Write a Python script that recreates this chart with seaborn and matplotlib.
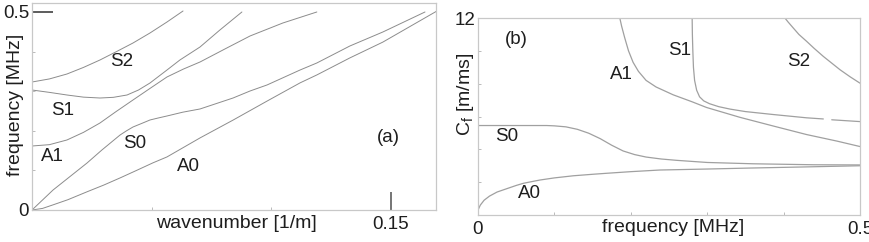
import numpy as np
import pandas as pd
import matplotlib
matplotlib.use("Agg")
import matplotlib.pyplot as plt
import seaborn as sns

# ---------------- data: panel (a) dispersion curves (wavenumber vs frequency) ----
a_A0_k = [0, 0.0044, 0.0088, 0.015, 0.0230, 0.030, 0.0368, 0.0437, 0.0505, 0.0564, 0.0702, 0.0840,
          0.0982, 0.1120, 0.1190, 0.1328, 0.1466, 0.1692]
a_A0_f = [0, 0.004, 0.013, 0.026, 0.046, 0.063, 0.081, 0.100, 0.119, 0.134, 0.182, 0.227,
          0.275, 0.321, 0.341, 0.384, 0.424, 0.5025]
a_S0_k = [0, 0.0088, 0.0230, 0.0292, 0.0368, 0.0395, 0.0422, 0.046, 0.0493, 0.0525, 0.0564, 0.063,
          0.0702, 0.0840, 0.0911, 0.0982, 0.1120, 0.1190, 0.1328, 0.1466, 0.1642]
a_S0_f = [0, 0.0505, 0.1187, 0.1515, 0.1894, 0.200, 0.2096, 0.219, 0.2273, 0.232, 0.2374, 0.247,
          0.2551, 0.2828, 0.3005, 0.3157, 0.3535, 0.3712, 0.4141, 0.4495, 0.5]
a_A1_k = [0, 0.0073, 0.0146, 0.0215, 0.0284, 0.035, 0.0422, 0.0493, 0.0564, 0.0633, 0.0702,
          0.0806, 0.0911, 0.1048, 0.1190]
a_A1_f = [0.1616, 0.165, 0.1768, 0.196, 0.2197, 0.248, 0.2778, 0.307, 0.3359, 0.356, 0.3737,
          0.4066, 0.4394, 0.4722, 0.5]
a_S1_k = [0, 0.0073, 0.0146, 0.0215, 0.0284, 0.034, 0.0397, 0.0445, 0.0493, 0.0564, 0.0618,
          0.0702, 0.0785, 0.0877]
a_S1_f = [0.303, 0.297, 0.2904, 0.285, 0.2828, 0.2845, 0.2904, 0.303, 0.3207, 0.3535, 0.3788,
          0.4116, 0.4545, 0.5]
a_S2_k = [0, 0.0073, 0.0146, 0.0215, 0.0284, 0.0353, 0.0422, 0.0493, 0.0564, 0.0631]
a_S2_f = [0.3232, 0.331, 0.3434, 0.36, 0.3788, 0.400, 0.4217, 0.447, 0.4747, 0.5025]

# ---------------- data: panel (b) phase velocity vs frequency -------------------
b_A0_f = [0, 0.003, 0.008, 0.015, 0.025, 0.0375, 0.05, 0.0593, 0.07, 0.081, 0.10, 0.125, 0.15,
          0.168, 0.20, 0.238, 0.30, 0.356, 0.43, 0.5]
b_A0_c = [0.3, 0.6, 0.9, 1.15, 1.4, 1.6, 1.8, 1.93, 2.03, 2.13, 2.26, 2.39, 2.48,
          2.54, 2.64, 2.74, 2.80, 2.86, 2.93, 3.0]
b_S0_f = [0, 0.09, 0.10, 0.115, 0.13, 0.145, 0.16, 0.175, 0.19, 0.205, 0.22, 0.24, 0.26, 0.30,
          0.36, 0.44, 0.5]
b_S0_c = [5.45, 5.45, 5.43, 5.37, 5.22, 4.98, 4.65, 4.25, 3.9, 3.68, 3.53, 3.41, 3.33, 3.2,
          3.12, 3.06, 3.05]
b_A1_f = [0.1856, 0.188, 0.192, 0.197, 0.203, 0.21, 0.22, 0.233, 0.2555, 0.28, 0.2991, 0.3428,
          0.3865, 0.4301, 0.47, 0.5]
b_A1_c = [12, 11.5, 10.8, 10.0, 9.3, 8.75, 8.2, 7.8, 7.32, 6.9, 6.55, 5.95,
          5.42, 4.9, 4.5, 4.17]
b_S1_f = [0.2803, 0.2806, 0.2812, 0.282, 0.2835, 0.2862, 0.29, 0.2955, 0.303, 0.315, 0.33, 0.35,
          0.3865, 0.4301, 0.452, 0.457, 0.463, 0.5]
b_S1_c = [12, 11, 10, 9, 8.2, 7.6, 7.2, 6.95, 6.78, 6.6, 6.45, 6.3,
          6.12, 5.92, 5.85, np.nan, 5.80, 5.69]
b_S2_f = [0.4017, 0.406, 0.4127, 0.42, 0.4301, 0.44, 0.452, 0.4738, 0.487, 0.5]
b_S2_c = [12, 11.75, 11.39, 11.0, 10.58, 10.15, 9.66, 8.85, 8.42, 8.03]

labels_a = {"S2": (0.0376, 0.374), "S1": (0.0129, 0.2525), "A1": (0.0084, 0.134),
            "S0": (0.043, 0.169), "A0": (0.0652, 0.1086), "(a)": (0.1487, 0.184)}
labels_b = {"(b)": (0.0506, 10.66), "S1": (0.2635, 10.05), "A1": (0.188, 8.53),
            "S2": (0.4193, 9.34), "S0": (0.0375, 4.77), "A0": (0.068, 1.32)}

sns.set_style("white")
plt.rcParams['font.family'] = ['Liberation Sans', 'DejaVu Sans']
plt.rcParams['mathtext.fontset'] = 'custom'
plt.rcParams['mathtext.rm'] = 'Liberation Sans'

W, H = 869, 242
fig = plt.figure(figsize=(W / 100, H / 100), dpi=100)

def rect(l, r, t, b):
    return [l / W, (H - b) / H, (r - l) / W, (b - t) / H]

axA = fig.add_axes(rect(32, 436, 3, 210))
axB = fig.add_axes(rect(478, 860, 18, 215))

line_col = "#8c8c8c"
spine_col = "#c8c8c8"
txt_col = "#1e1e1e"
fs = 13.5

def draw(ax, x, y, color, lw):
    x = np.asarray(x, float)
    y = np.asarray(y, float)
    seg = np.cumsum(np.isnan(y))
    df = pd.DataFrame({"x": x, "y": y, "seg": seg}).dropna()
    for _, g in df.groupby("seg"):
        sns.lineplot(data=g, x="x", y="y", ax=ax, color=color, lw=lw, sort=False,
                     estimator=None, legend=False)

for kx, fy in [(a_A0_k, a_A0_f), (a_S0_k, a_S0_f), (a_A1_k, a_A1_f),
               (a_S1_k, a_S1_f), (a_S2_k, a_S2_f)]:
    draw(axA, kx, fy, line_col, 0.7)
for fx, cy in [(b_A0_f, b_A0_c), (b_S0_f, b_S0_c), (b_A1_f, b_A1_c),
               (b_S1_f, b_S1_c), (b_S2_f, b_S2_c)]:
    draw(axB, fx, cy, "#a0a0a0", 0.9)

# ---- panel (a) axes styling
axA.set_xlim(0, 0.1688)
axA.set_ylim(0, 0.5227)
axA.set_xticks([0.15])
axA.set_xticklabels(["0.15"])
axA.set_xticks([0.05, 0.10], minor=True)
axA.set_yticks([0, 0.5])
axA.set_yticklabels(["0", "0.5"])
axA.set_yticks([0.1, 0.2, 0.3, 0.4], minor=True)
axA.tick_params(axis="x", which="major", direction="in", length=13, width=1.1,
                color="#505050", labelsize=fs, pad=4, labelcolor=txt_col, bottom=True)
axA.tick_params(axis="y", which="major", direction="in", length=15, width=1.1,
                color="#303030", labelsize=fs, pad=2, labelcolor=txt_col, left=True)
axA.tick_params(which="minor", direction="in", length=2, width=0.6, color="#b0b0b0",
                bottom=True, left=True)
axA.yaxis.get_major_ticks()[0].tick1line.set_visible(False)
axA.set_xlabel("wavenumber [1/m]", fontsize=fs + 0.5, color=txt_col)
axA.set_ylabel("frequency [MHz]", fontsize=fs + 0.5, color=txt_col)
axA.xaxis.set_label_coords(0.507, -0.063)
axA.xaxis.label.set_va("center")
axA.yaxis.set_label_coords(-0.042, 0.51)
axA.yaxis.label.set_va("center")
for t, (x, y) in labels_a.items():
    axA.text(x, y, t, fontsize=fs, color=txt_col, ha="center", va="center")

# ---- panel (b) axes styling
axB.set_xlim(0, 0.5)
axB.set_ylim(0, 12)
axB.set_xticks([0, 0.5])
axB.set_xticklabels(["0", "0.5"])
axB.set_xticks([0.1, 0.2, 0.3, 0.4], minor=True)
axB.set_yticks([12])
axB.set_yticklabels(["12"])
axB.set_yticks([2, 4, 6, 8, 10], minor=True)
axB.tick_params(which="major", length=0, labelsize=fs, pad=4, labelcolor=txt_col)
axB.tick_params(axis="y", which="major", pad=2)
axB.tick_params(which="minor", direction="in", length=2, width=0.6, color="#b0b0b0",
                bottom=True, left=True)
axB.set_xlabel("frequency [MHz]", fontsize=fs + 0.5, color=txt_col)
axB.set_ylabel(r"C$_\mathregular{f}$ [m/ms]", fontsize=fs + 0.5, color=txt_col)
axB.xaxis.set_label_coords(0.51, -0.061)
axB.xaxis.label.set_va("center")
axB.yaxis.set_label_coords(-0.034, 0.61)
axB.yaxis.label.set_va("center")
for t, (x, y) in labels_b.items():
    axB.text(x, y, t, fontsize=fs, color=txt_col, ha="center", va="center")

for ax in (axA, axB):
    for s in ax.spines.values():
        s.set_visible(True)
        s.set_color(spine_col)
        s.set_linewidth(0.9)

fig.savefig("out.png", dpi=100)
